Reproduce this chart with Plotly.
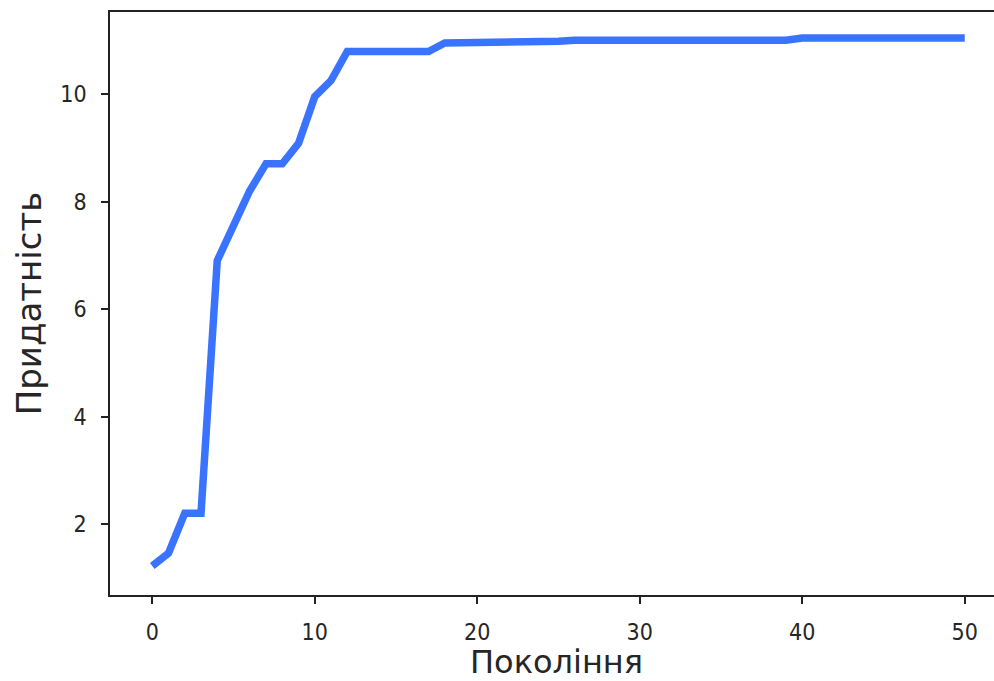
import plotly.graph_objects as go

generations = list(range(51))
fitness = [1.22, 1.46, 2.2, 2.2, 6.9, 7.55, 8.2, 8.7, 8.7, 9.08,
           9.95, 10.25, 10.79, 10.79, 10.79, 10.79, 10.79, 10.79, 10.95, 10.95,
           10.95, 10.95, 10.98, 10.98, 10.98, 10.98, 11.0, 11.0, 11.0, 11.0,
           11.0, 11.0, 11.0, 11.0, 11.0, 11.0, 11.0, 11.0, 11.0, 11.0,
           11.04, 11.04, 11.04, 11.04, 11.04, 11.04, 11.04, 11.04, 11.04, 11.04,
           11.04]
x_ticks = [0, 10, 20, 30, 40, 50]
y_ticks = [2, 4, 6, 8, 10]
x_title = "Покоління"
y_title = "Придатність"

TICK_FONT = "DejaVu Sans Condensed, DejaVu Sans"
TITLE_FONT = "DejaVu Sans"

fig = go.Figure(go.Scatter(x=generations, y=fitness, mode="lines",
                           line=dict(color="#3a73ff", width=7.5),
                           hoverinfo="skip"))

fig.update_layout(
    width=994, height=681,
    margin=dict(l=110, r=0, t=12, b=86, autoexpand=False),
    paper_bgcolor="white", plot_bgcolor="white",
    showlegend=False,
    font=dict(family=TICK_FONT, color="#262626"),
)
fig.update_xaxes(
    range=[-2.6, 51.8], tickvals=x_ticks, ticktext=[str(v) for v in x_ticks],
    showgrid=False, zeroline=False, automargin=False,
    showline=True, linecolor="#222222", linewidth=1.5, mirror=True,
    ticks="outside", ticklen=7, tickwidth=1.5, tickcolor="#222222",
    tickfont=dict(size=23, family=TICK_FONT, color="#262626"),
    ticklabelstandoff=9,
)
fig.update_yaxes(
    range=[0.68, 11.525], tickvals=y_ticks, ticktext=[str(v) for v in y_ticks],
    showgrid=False, zeroline=False, automargin=False,
    showline=True, linecolor="#222222", linewidth=1.5, mirror=False,
    ticks="outside", ticklen=7, tickwidth=1.5, tickcolor="#222222",
    tickfont=dict(size=23, family=TICK_FONT, color="#262626"),
    ticklabelstandoff=10,
    title=dict(text=y_title, font=dict(size=34, family=TITLE_FONT, color="#262626"), standoff=8),
)
fig.add_annotation(
    text=x_title, xref="paper", yref="paper", x=0.505, y=-0.115,
    xanchor="center", yanchor="middle", showarrow=False,
    font=dict(size=32, family=TITLE_FONT, color="#262626"),
)

fig.write_html("out.html")
